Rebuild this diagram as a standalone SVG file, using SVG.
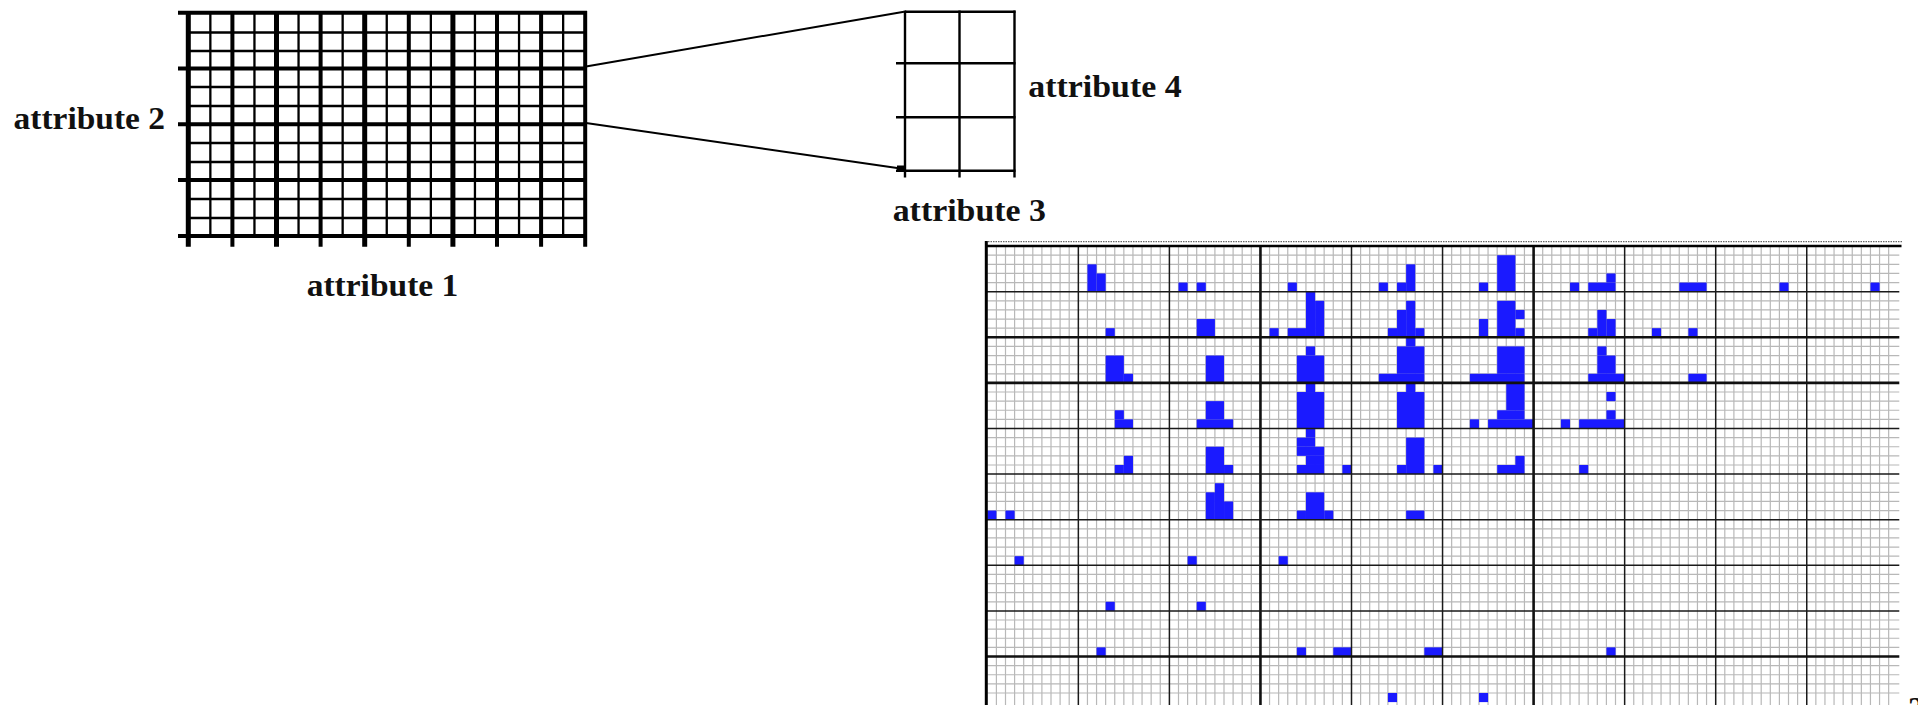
<svg xmlns="http://www.w3.org/2000/svg" width="1918" height="705" viewBox="0 0 1918 705">
<style>
.lbl{font-family:"Liberation Serif","Times New Roman",serif;font-weight:bold;font-size:32px;fill:#111}
.gmaj{stroke:#000;stroke-width:4;fill:none}
.gmajt{stroke:#000;stroke-width:5;fill:none}
.gmin{stroke:#000;stroke-width:2.3;fill:none}
.zc{stroke:#000;stroke-width:2.4;fill:none}
.conn{stroke:#000;stroke-width:2;fill:none}
.minor{stroke:#b8b8b8;stroke-width:1.2;fill:none}
.maj{stroke:#1a1a1a;stroke-width:1.5;fill:none}
.majt{stroke:#111;stroke-width:2.6;fill:none}
.cell{fill:#1a1aff}
</style>
<defs>
<path id="vm" d="M9.1 0V459M18.2 0V459M27.3 0V459M36.4 0V459M45.5 0V459M54.6 0V459M63.7 0V459M72.8 0V459M81.9 0V459"/>
<path id="hm" d="M0 9.12H912M0 18.24H912M0 27.36H912M0 36.48H912"/>
</defs>
<rect width="1918" height="705" fill="#fff"/>

<g id="overview-grid">
<path class="gmin" d="M210.35 12.7V235.9M254.45 12.7V235.9M298.55 12.7V235.9M342.65 12.7V235.9M386.75 12.7V235.9M430.85 12.7V235.9M474.95 12.7V235.9M519.05 12.7V235.9M563.15 12.7V235.9"/>
<path class="gmin" d="M188 32.5H585M188 51H585M188 87H585M188 106H585M188 143H585M188 162H585M188 199H585M188 218H585"/>
<path class="gmaj" d="M178 12.7H587M178 68.5H587M178 124.3H587M178 180.1H587M178 235.9H587"/>
<path class="gmaj" d="M232.4 11V246.7M320.6 11V246.7M408.8 11V246.7M497 11V246.7M541.1 11V246.7M585.2 11V246.7"/>
<path class="gmajt" d="M188.3 11V246.7M276.5 11V246.7M364.7 11V246.7M452.9 11V246.7"/>
<text class="lbl" x="13.5" y="128.5" textLength="151.5" lengthAdjust="spacingAndGlyphs">attribute 2</text>
<text class="lbl" x="306.7" y="295.5" textLength="151.6" lengthAdjust="spacingAndGlyphs">attribute 1</text>
</g>

<g id="zoom-cell">
<path class="zc" d="M905 11.7H1015.5M896 63.3H1015.5M896 117.3H1015.5M896 170.7H1015.5"/>
<path class="zc" d="M905 10.6V177.5M959.5 10.6V177.5M1014.5 10.6V177.5"/>
<text class="lbl" x="1028.3" y="96.5" textLength="153.4" lengthAdjust="spacingAndGlyphs">attribute 4</text>
<text class="lbl" x="892.7" y="220.5" textLength="153.3" lengthAdjust="spacingAndGlyphs">attribute 3</text>
</g>

<g id="connectors">
<line class="conn" x1="586" y1="66.5" x2="904" y2="11.7"/>
<line class="conn" x1="586" y1="123" x2="904" y2="169"/>
<rect x="897" y="165.5" width="8" height="6" fill="#000"/>
</g>

<g id="density-plot">
<g class="minor">
<use href="#vm" x="987.3" y="246"/><use href="#vm" x="1078.35" y="246"/><use href="#vm" x="1169.4" y="246"/><use href="#vm" x="1260.45" y="246"/><use href="#vm" x="1351.5" y="246"/><use href="#vm" x="1442.55" y="246"/><use href="#vm" x="1533.6" y="246"/><use href="#vm" x="1624.65" y="246"/><use href="#vm" x="1715.7" y="246"/><use href="#vm" x="1806.75" y="246"/>
<use href="#hm" x="987.3" y="246.1"/><use href="#hm" x="987.3" y="291.7"/><use href="#hm" x="987.3" y="337.3"/><use href="#hm" x="987.3" y="382.9"/><use href="#hm" x="987.3" y="428.5"/><use href="#hm" x="987.3" y="474.1"/><use href="#hm" x="987.3" y="519.7"/><use href="#hm" x="987.3" y="565.3"/><use href="#hm" x="987.3" y="610.9"/><use href="#hm" x="987.3" y="656.5"/>
</g>
<g class="cell" transform="translate(987.3 246.1) scale(9.105 9.12)">
<rect x="11" y="2" width="1" height="3"/><rect x="12" y="3" width="1" height="2"/><rect x="21" y="4" width="1" height="1"/><rect x="23" y="4" width="1" height="1"/><rect x="33" y="4" width="1" height="1"/><rect x="43" y="4" width="1" height="1"/><rect x="46" y="2" width="1" height="3"/><rect x="45" y="4" width="1" height="1"/><rect x="54" y="4" width="1" height="1"/><rect x="56" y="1" width="2" height="4"/><rect x="64" y="4" width="1" height="1"/><rect x="66" y="4" width="3" height="1"/><rect x="68" y="3" width="1" height="1"/><rect x="76" y="4" width="3" height="1"/><rect x="87" y="4" width="1" height="1"/><rect x="97" y="4" width="1" height="1"/>
<rect x="13" y="9" width="1" height="1"/><rect x="23" y="8" width="2" height="2"/><rect x="31" y="9" width="1" height="1"/><rect x="35" y="5" width="1" height="5"/><rect x="36" y="6" width="1" height="4"/><rect x="33" y="9" width="2" height="1"/><rect x="46" y="6" width="1" height="4"/><rect x="45" y="7" width="1" height="3"/><rect x="44" y="9" width="1" height="1"/><rect x="47" y="9" width="1" height="1"/><rect x="54" y="8" width="1" height="2"/><rect x="56" y="6" width="2" height="4"/><rect x="58" y="7" width="1" height="1"/><rect x="58" y="9" width="1" height="1"/><rect x="67" y="7" width="1" height="3"/><rect x="68" y="8" width="1" height="2"/><rect x="66" y="9" width="1" height="1"/><rect x="73" y="9" width="1" height="1"/><rect x="77" y="9" width="1" height="1"/>
<rect x="13" y="12" width="2" height="3"/><rect x="15" y="14" width="1" height="1"/><rect x="24" y="12" width="2" height="3"/><rect x="35" y="11" width="1" height="1"/><rect x="34" y="12" width="3" height="3"/><rect x="46" y="10" width="1" height="1"/><rect x="45" y="11" width="3" height="3"/><rect x="43" y="14" width="5" height="1"/><rect x="56" y="11" width="3" height="3"/><rect x="53" y="14" width="6" height="1"/><rect x="67" y="11" width="1" height="1"/><rect x="67" y="12" width="2" height="2"/><rect x="66" y="14" width="4" height="1"/><rect x="77" y="14" width="2" height="1"/>
<rect x="14" y="18" width="1" height="1"/><rect x="14" y="19" width="2" height="1"/><rect x="24" y="17" width="2" height="2"/><rect x="23" y="19" width="4" height="1"/><rect x="35" y="15" width="1" height="1"/><rect x="34" y="16" width="3" height="4"/><rect x="46" y="15" width="1" height="1"/><rect x="45" y="16" width="3" height="4"/><rect x="57" y="15" width="2" height="3"/><rect x="56" y="18" width="3" height="1"/><rect x="53" y="19" width="1" height="1"/><rect x="55" y="19" width="5" height="1"/><rect x="68" y="16" width="1" height="1"/><rect x="68" y="18" width="1" height="1"/><rect x="63" y="19" width="1" height="1"/><rect x="65" y="19" width="5" height="1"/>
<rect x="15" y="23" width="1" height="2"/><rect x="14" y="24" width="1" height="1"/><rect x="24" y="22" width="2" height="3"/><rect x="26" y="24" width="1" height="1"/><rect x="35" y="20" width="1" height="1"/><rect x="34" y="21" width="2" height="1"/><rect x="34" y="22" width="3" height="1"/><rect x="35" y="23" width="2" height="1"/><rect x="34" y="24" width="3" height="1"/><rect x="39" y="24" width="1" height="1"/><rect x="46" y="21" width="2" height="4"/><rect x="45" y="24" width="1" height="1"/><rect x="49" y="24" width="1" height="1"/><rect x="58" y="23" width="1" height="1"/><rect x="56" y="24" width="3" height="1"/><rect x="65" y="24" width="1" height="1"/>
<rect x="0" y="29" width="1" height="1"/><rect x="2" y="29" width="1" height="1"/><rect x="25" y="26" width="1" height="4"/><rect x="24" y="27" width="1" height="3"/><rect x="26" y="28" width="1" height="2"/><rect x="35" y="27" width="2" height="3"/><rect x="34" y="29" width="1" height="1"/><rect x="37" y="29" width="1" height="1"/><rect x="46" y="29" width="2" height="1"/>
<rect x="3" y="34" width="1" height="1"/><rect x="22" y="34" width="1" height="1"/><rect x="32" y="34" width="1" height="1"/>
<rect x="13" y="39" width="1" height="1"/><rect x="23" y="39" width="1" height="1"/>
<rect x="12" y="44" width="1" height="1"/><rect x="34" y="44" width="1" height="1"/><rect x="38" y="44" width="2" height="1"/><rect x="48" y="44" width="2" height="1"/><rect x="68" y="44" width="1" height="1"/>
<rect x="44" y="49" width="1" height="1"/><rect x="54" y="49" width="1" height="1"/>
</g>
<path class="maj" d="M1078.35 246V705M1169.4 246V705M1351.5 246V705M1442.55 246V705M1624.65 246V705M1715.7 246V705M1806.75 246V705"/>
<path class="majt" d="M1260.45 246V705M1533.6 246V705"/>
<path class="maj" d="M987 291.7H1899.3M987 428.5H1899.3M987 474.1H1899.3M987 519.7H1899.3M987 565.3H1899.3M987 610.9H1899.3"/>
<path class="majt" d="M987 337.3H1899.3M987 382.9H1899.3M987 656.5H1899.3"/>
<line x1="988" y1="241.7" x2="1903" y2="241.7" stroke="#444" stroke-width="1" stroke-dasharray="1.5 1"/>
<line x1="985" y1="246" x2="1901.5" y2="246" stroke="#000" stroke-width="2.6"/>
<line x1="986.3" y1="241" x2="986.3" y2="705" stroke="#000" stroke-width="3"/>
<text class="lbl" x="1908" y="719">2</text>
</g>
</svg>
